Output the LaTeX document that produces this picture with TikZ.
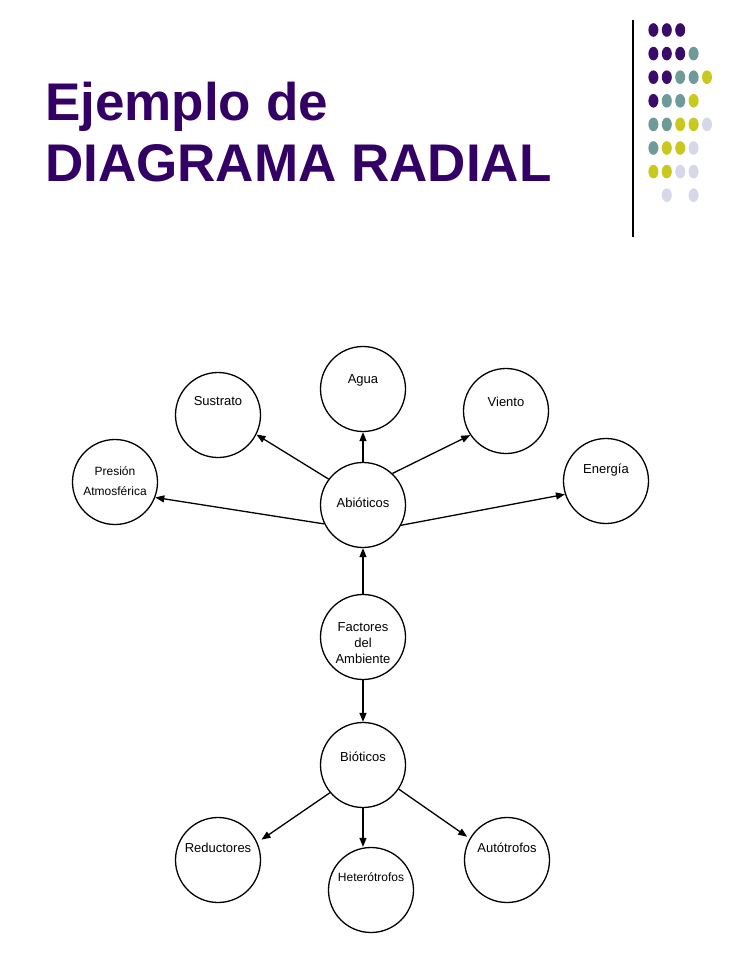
\documentclass[tikz,border=0pt]{standalone}
\usepackage{fontspec}
\setmainfont{Liberation Sans}
\usetikzlibrary{arrows.meta}
\definecolor{titlepurple}{HTML}{330066}
\definecolor{dotpu}{HTML}{3A0C6A}
\definecolor{dotte}{HTML}{6E9A9A}
\definecolor{dotye}{HTML}{C8C81E}
\definecolor{dotla}{HTML}{D7D7EA}

\begin{document}
\begin{tikzpicture}[x=1pt, y=-1pt,
    circ/.style={draw, circle, minimum size=85pt, inner sep=0pt, line width=1.3pt},
    txt/.style={font=\fontsize{13}{16}\selectfont, align=center},
    small/.style={font=\fontsize{12}{15}\selectfont, align=center},
    arr/.style={-{Triangle[length=9pt, width=7pt]}, line width=1.3pt},
    title/.style={font=\fontsize{53}{60}\selectfont\bfseries, text=titlepurple, inner sep=0pt, anchor=base west}
]
\useasboundingbox[fill=white] (0,0) rectangle (728,971);

\node[title] (t1) at (45,121) {Ejemplo de};
\node[title] (t2) at (45,181) {DIAGRAMA RADIAL};

\draw[line width=1.2pt] (633,20) -- (633,237);
\foreach \y/\list in {30/{dotpu,dotpu,dotpu}, 53.6/{dotpu,dotpu,dotpu,dotte},
    77.2/{dotpu,dotpu,dotte,dotte,dotye}, 100.8/{dotpu,dotte,dotte,dotye},
    124.4/{dotte,dotte,dotye,dotye,dotla}, 148/{dotte,dotye,dotye,dotla},
    171.6/{dotye,dotye,dotla,dotla}}
  \foreach \c [count=\i] in \list
    \fill[\c] (640+13.4*\i,\y) ellipse (5 and 6.8);
\fill[dotla] (666.8,195.2) ellipse (5 and 6.8);
\fill[dotla] (693.6,195.2) ellipse (5 and 6.8);

\node[circ, label={[txt, yshift=2pt]center:Abióticos}] (abio) at (363,505) {};
\node[circ, label={[txt, yshift=9pt]center:Agua}] (agua) at (363,389) {};
\node[circ, label={[txt, yshift=14pt]center:Sustrato}] (sust) at (218,415) {};
\node[circ, label={[small, yshift=1pt]center:Presión\\[5pt]Atmosférica}] (pres) at (115,482) {};
\node[circ, label={[txt, yshift=9pt]center:Viento}] (vien) at (506,411) {};
\node[circ, label={[txt, yshift=11pt]center:Energía}] (ener) at (606,481) {};
\node[circ, label={[txt, yshift=-6pt]center:Factores\\del\\Ambiente}] (fact) at (363,637) {};
\node[circ, label={[txt, yshift=8pt]center:Bióticos}] (bio) at (363,765) {};
\node[circ, label={[txt, yshift=12pt]center:Reductores}] (redu) at (218,860) {};
\node[circ, label={[small, yshift=13pt]center:Heterótrofos}] (hete) at (371,890) {};
\node[circ, label={[txt, yshift=12pt]center:Autótrofos}] (auto) at (507,860) {};

\draw[arr] (abio.north) -- (agua.south);
\draw[arr] (abio.143) -- (sust.333);
\draw[arr] (abio.206) -- (pres.339);
\draw[arr] (abio.47) -- (vien.214);
\draw[arr] (abio.332) -- (ener.198);
\draw[arr] (fact.north) -- (abio.south);
\draw[arr] (fact.south) -- (bio.north);
\draw[arr, shorten >=5pt] (bio.220) -- (redu.24);
\draw[arr] (bio.south) -- (bio.south |- hete.north);
\draw[arr, shorten >=3pt] (bio.326) -- (auto.150);
\end{tikzpicture}
\end{document}
